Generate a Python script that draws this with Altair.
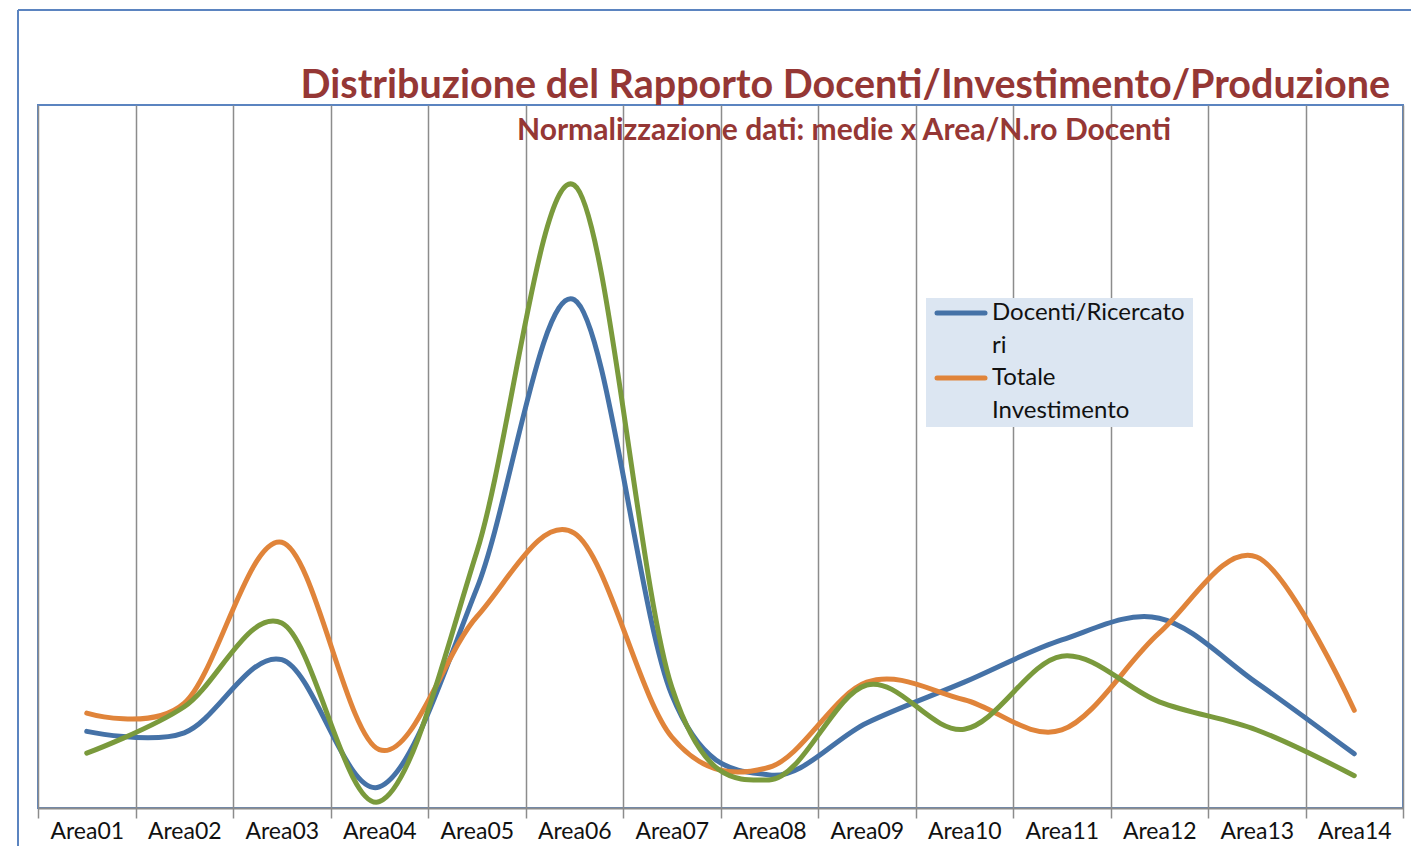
import altair as alt
import pandas as pd

categories = ["Area01", "Area02", "Area03", "Area04", "Area05", "Area06", "Area07",
              "Area08", "Area09", "Area10", "Area11", "Area12", "Area13", "Area14"]
series_names = ["Docenti/Ricercatori", "Totale Investimento", "Produzione"]
docenti = [10.9, 10.7, 21.1, 3.0, 31.2, 72.3, 16.1, 4.7, 12.1, 17.9, 23.9, 27.0, 17.8, 7.7]
investimento = [13.5, 14.9, 37.8, 8.3, 27.2, 39.1, 10.1, 5.8, 17.9, 15.4, 11.1, 24.9, 35.7, 13.9]
produzione = [7.8, 14.4, 26.3, 0.9, 36.4, 88.6, 17.2, 4.0, 17.5, 11.2, 21.6, 15.1, 11.1, 4.6]
colors = ["#4572a7", "#e0843a", "#7a9a3c"]
legend_lines = [["Docenti/Ricercato", "ri"], ["Totale", "Investimento"]]
title_text = "Distribuzione del Rapporto Docenti/Investimento/Produzione"
subtitle_text = "Normalizzazione dati: medie x Area/N.ro Docenti"

rows = []
for name, vals in zip(series_names, [docenti, investimento, produzione]):
    for c, v in zip(categories, vals):
        rows.append({"area": c, "serie": name, "valore": v})
df = pd.DataFrame(rows)

font = "Lato"
title_color = "#953735"
frame_color = "#5b84c0"
color_scale = alt.Scale(domain=series_names, range=colors)

lines = alt.Chart(df).mark_line(interpolate="cardinal", strokeWidth=5, strokeCap="round").encode(
    x=alt.X("area:N", sort=categories, bandPosition=0.5,
            scale=alt.Scale(type="band", paddingInner=0, paddingOuter=0),
            axis=alt.Axis(title=None, grid=True, tickBand="extent", gridColor="#8c8c8c",
                          gridWidth=1.5, tickColor="#8c8c8c", tickWidth=1.5, tickSize=10,
                          domainColor="#8c8c8c", domainWidth=2, labelAngle=0,
                          labelFont=font, labelFontSize=23, labelColor="#111111",
                          labelPadding=2, labelBaseline="top")),
    y=alt.Y("valore:Q", scale=alt.Scale(domain=[0, 100]), axis=None),
    color=alt.Color("serie:N", scale=color_scale, legend=None),
)

title = alt.Chart(alt.Data(values=[{"t": title_text}])).mark_text(
    font=font, fontSize=39.5, fontWeight="bold", color=title_color, align="right", baseline="alphabetic"
).encode(x=alt.value(1352), y=alt.value(-7), text="t:N")

subtitle = alt.Chart(alt.Data(values=[{"t": subtitle_text}])).mark_text(
    font=font, fontSize=30, fontWeight="bold", color=title_color, align="center", baseline="alphabetic"
).encode(x=alt.value(806), y=alt.value(35), text="t:N")

frame_top = alt.Chart(alt.Data(values=[{}])).mark_rule(color=frame_color, strokeWidth=2).encode(
    x=alt.value(-20), x2=alt.value(1400), y=alt.value(-95))
frame_left = alt.Chart(alt.Data(values=[{}])).mark_rule(color=frame_color, strokeWidth=2).encode(
    x=alt.value(-20), y=alt.value(-95), y2=alt.value(760))

# legend (only the first two series are shown, as in the original)
legend_box = alt.Chart(alt.Data(values=[{}])).mark_rect(fill="#dce6f2").encode(
    x=alt.value(888), x2=alt.value(1155), y=alt.value(193), y2=alt.value(322))
legend_layers = [legend_box]
for i, (name, text_lines) in enumerate(zip(series_names[:2], legend_lines)):
    y0 = 208 + 65 * i
    sym = alt.Chart(alt.Data(values=[{"serie": name}])).mark_rule(strokeWidth=5, strokeCap="round").encode(
        x=alt.value(899), x2=alt.value(947), y=alt.value(y0),
        color=alt.Color("serie:N", scale=color_scale, legend=None))
    legend_layers.append(sym)
    for j, t in enumerate(text_lines):
        txt = alt.Chart(alt.Data(values=[{"t": t}])).mark_text(
            font=font, fontSize=24, color="#111111", align="left", baseline="middle"
        ).encode(x=alt.value(954), y=alt.value(y0 + 32.5 * j), text="t:N")
        legend_layers.append(txt)

chart = alt.layer(frame_top, frame_left, lines, *legend_layers, title, subtitle).properties(
    width=1365, height=703,
    autosize=alt.AutoSizeParams(type="none"),
    padding={"left": 30, "top": 97, "right": 8, "bottom": 38},
).configure_view(stroke=frame_color, strokeWidth=2)

chart.save("out.html", embed_options={"renderer": "svg", "actions": False})
